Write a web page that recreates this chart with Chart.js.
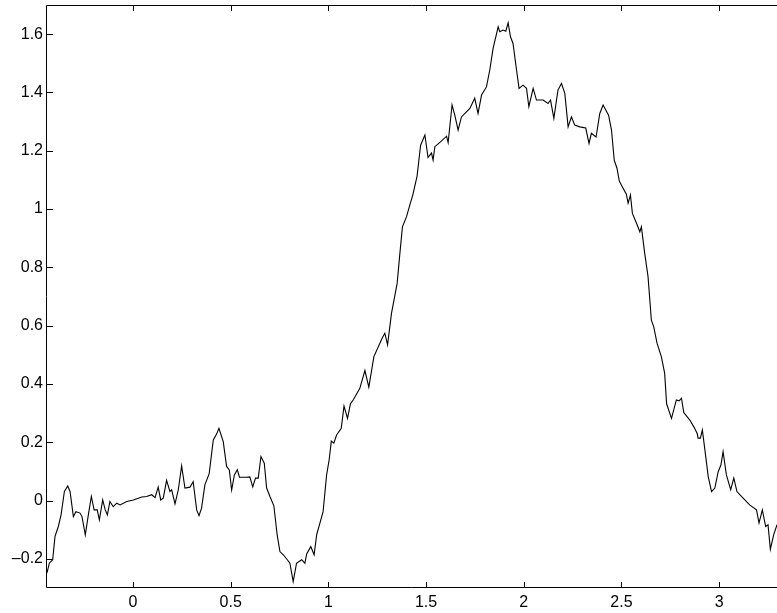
<!DOCTYPE html>
<html>
<head>
<meta charset="utf-8">
<title>Signal</title>
<script src="https://cdn.jsdelivr.net/npm/chart.js@4.4.1/dist/chart.umd.min.js"></script>
<style>
  html, body { margin: 0; padding: 0; background: #fff; overflow: hidden; }
  #wrap { width: 777px; height: 613px; }
</style>
</head>
<body>
<div id="wrap"><canvas id="chart" width="777" height="613"></canvas></div>
<script>
// values
const xValues = [
  -0.440, -0.428, -0.411, -0.399, -0.382, -0.368, -0.351, -0.334, -0.322, -0.305,
  -0.292, -0.271, -0.261, -0.244, -0.227, -0.213, -0.199, -0.183, -0.172, -0.155,
  -0.142, -0.131, -0.118, -0.101, -0.083, -0.066, -0.032, 0.002, 0.045, 0.070,
  0.096, 0.113, 0.129, 0.142, 0.155, 0.172, 0.189, 0.198, 0.215, 0.232,
  0.249, 0.266, 0.292, 0.308, 0.326, 0.338, 0.351, 0.368, 0.390, 0.411,
  0.428, 0.440, 0.462, 0.479, 0.493, 0.505, 0.519, 0.534, 0.545, 0.582,
  0.598, 0.613, 0.627, 0.641, 0.655, 0.672, 0.684, 0.701, 0.721, 0.738,
  0.752, 0.769, 0.790, 0.803, 0.820, 0.837, 0.863, 0.880, 0.889, 0.910,
  0.927, 0.940, 0.973, 0.991, 1.004, 1.015, 1.028, 1.042, 1.066, 1.080,
  1.098, 1.113, 1.127, 1.161, 1.187, 1.207, 1.233, 1.275, 1.289, 1.303,
  1.323, 1.352, 1.366, 1.379, 1.400, 1.417, 1.432, 1.454, 1.472, 1.494,
  1.510, 1.528, 1.536, 1.545, 1.575, 1.605, 1.613, 1.633, 1.647, 1.664,
  1.681, 1.724, 1.749, 1.766, 1.784, 1.809, 1.826, 1.843, 1.869, 1.877,
  1.894, 1.908, 1.920, 1.932, 1.945, 1.963, 1.976, 1.996, 2.014, 2.026,
  2.048, 2.065, 2.099, 2.124, 2.137, 2.154, 2.175, 2.193, 2.210, 2.227,
  2.244, 2.261, 2.287, 2.317, 2.334, 2.346, 2.370, 2.389, 2.406, 2.434,
  2.449, 2.463, 2.477, 2.489, 2.500, 2.525, 2.534, 2.546, 2.556, 2.577,
  2.594, 2.602, 2.619, 2.636, 2.653, 2.665, 2.682, 2.704, 2.721, 2.731,
  2.756, 2.781, 2.795, 2.807, 2.819, 2.849, 2.872, 2.888, 2.892, 2.904,
  2.914, 2.927, 2.944, 2.961, 2.978, 2.995, 3.009, 3.020, 3.037, 3.059,
  3.075, 3.091, 3.114, 3.156, 3.191, 3.204, 3.221, 3.238, 3.250, 3.262,
  3.279, 3.296
];
const yValues = [
  -0.248, -0.215, -0.203, -0.123, -0.089, -0.049, 0.031, 0.050, 0.031, -0.055,
  -0.038, -0.043, -0.055, -0.118, -0.043, 0.014, -0.032, -0.032, -0.066, 0.002,
  -0.032, -0.049, -0.003, -0.021, -0.009, -0.015, -0.003, 0.002, 0.012, 0.014,
  0.020, 0.010, 0.046, 0.002, 0.008, 0.069, 0.031, 0.037, -0.011, 0.037,
  0.119, 0.043, 0.046, 0.065, -0.032, -0.052, -0.026, 0.054, 0.092, 0.208,
  0.228, 0.248, 0.202, 0.117, 0.105, 0.036, 0.088, 0.106, 0.080, 0.080,
  0.081, 0.047, 0.077, 0.077, 0.151, 0.128, 0.043, 0.014, -0.018, -0.118,
  -0.175, -0.186, -0.203, -0.215, -0.278, -0.215, -0.203, -0.215, -0.183, -0.158,
  -0.186, -0.118, -0.038, 0.088, 0.140, 0.204, 0.197, 0.225, 0.248, 0.324,
  0.282, 0.332, 0.345, 0.385, 0.446, 0.389, 0.494, 0.557, 0.574, 0.534,
  0.642, 0.745, 0.848, 0.939, 0.974, 1.014, 1.048, 1.113, 1.219, 1.254,
  1.177, 1.192, 1.168, 1.214, 1.231, 1.250, 1.228, 1.357, 1.322, 1.271,
  1.316, 1.345, 1.380, 1.328, 1.391, 1.419, 1.477, 1.551, 1.625, 1.608,
  1.614, 1.610, 1.639, 1.591, 1.568, 1.477, 1.414, 1.425, 1.414, 1.351,
  1.414, 1.374, 1.374, 1.362, 1.374, 1.311, 1.408, 1.431, 1.397, 1.282,
  1.316, 1.288, 1.282, 1.278, 1.225, 1.260, 1.247, 1.328, 1.357, 1.322,
  1.271, 1.168, 1.140, 1.096, 1.082, 1.051, 1.020, 1.048, 0.985, 0.951,
  0.922, 0.939, 0.848, 0.768, 0.619, 0.597, 0.540, 0.494, 0.437, 0.332,
  0.282, 0.345, 0.342, 0.351, 0.302, 0.277, 0.251, 0.229, 0.214, 0.214,
  0.242, 0.174, 0.082, 0.031, 0.043, 0.099, 0.122, 0.168, 0.088, 0.037,
  0.077, 0.031, 0.014, -0.015, -0.032, -0.077, -0.032, -0.089, -0.083, -0.167,
  -0.118, -0.083
];
const xTicks = [0, 0.5, 1, 1.5, 2, 2.5, 3];
const yTicks = [-0.2, 0, 0.2, 0.4, 0.6, 0.8, 1, 1.2, 1.4, 1.6];

const fontSpec = { family: '"Liberation Sans", Arial, Helvetica, sans-serif', size: 16 };

// minus shown as a dash, like the original plot
const fmt = v => (v < 0 ? '\u2013' + Math.abs(v) : String(v));

// box on top/left/bottom with ticks pointing inward
const framePlugin = {
  id: 'frame',
  afterDatasetsDraw(chart) {
    const { ctx, chartArea: a, scales } = chart;
    const len = 6;
    ctx.save();
    ctx.strokeStyle = '#000';
    ctx.lineWidth = 1;
    ctx.beginPath();
    ctx.moveTo(a.right, a.top + 0.5);
    ctx.lineTo(a.left - 0.5, a.top + 0.5);
    ctx.lineTo(a.left - 0.5, a.bottom - 0.5);
    ctx.lineTo(a.right, a.bottom - 0.5);
    xTicks.forEach(v => {
      const px = Math.round(scales.x.getPixelForValue(v)) + 0.5;
      ctx.moveTo(px, a.bottom);
      ctx.lineTo(px, a.bottom - len);
      ctx.moveTo(px, a.top);
      ctx.lineTo(px, a.top + len);
    });
    yTicks.forEach(v => {
      const py = Math.round(scales.y.getPixelForValue(v)) + 0.5;
      ctx.moveTo(a.left, py);
      ctx.lineTo(a.left + len, py);
    });
    ctx.stroke();
    ctx.restore();
  }
};

new Chart(document.getElementById('chart'), {
  type: 'line',
  data: {
    datasets: [{
      data: xValues.map((x, i) => ({ x: x, y: yValues[i] })),
      borderColor: '#000',
      borderWidth: 1.1,
      pointRadius: 0,
      tension: 0,
      fill: false
    }]
  },
  options: {
    responsive: false,
    animation: false,
    layout: { padding: { top: 5, left: 0, right: 0, bottom: 0 } },
    plugins: { legend: { display: false }, tooltip: { enabled: false } },
    scales: {
      x: {
        type: 'linear',
        min: -0.44,
        max: 3.296,
        grid: { display: false, drawTicks: false },
        border: { display: false },
        afterBuildTicks: s => { s.ticks = xTicks.map(v => ({ value: v })); },
        afterFit: s => { s.height = 25; s.paddingLeft = 0; s.paddingRight = 0; },
        ticks: { color: '#000', font: fontSpec, padding: 5, maxRotation: 0, autoSkip: false, callback: fmt }
      },
      y: {
        min: -0.3,
        max: 1.7,
        grid: { display: false, drawTicks: false },
        border: { display: false },
        afterBuildTicks: s => { s.ticks = yTicks.map(v => ({ value: v })); },
        afterFit: s => { s.width = 47; s.paddingTop = 0; s.paddingBottom = 0; },
        ticks: { color: '#000', font: fontSpec, padding: 4, autoSkip: false, callback: fmt }
      }
    }
  },
  plugins: [framePlugin]
});
</script>
</body>
</html>
